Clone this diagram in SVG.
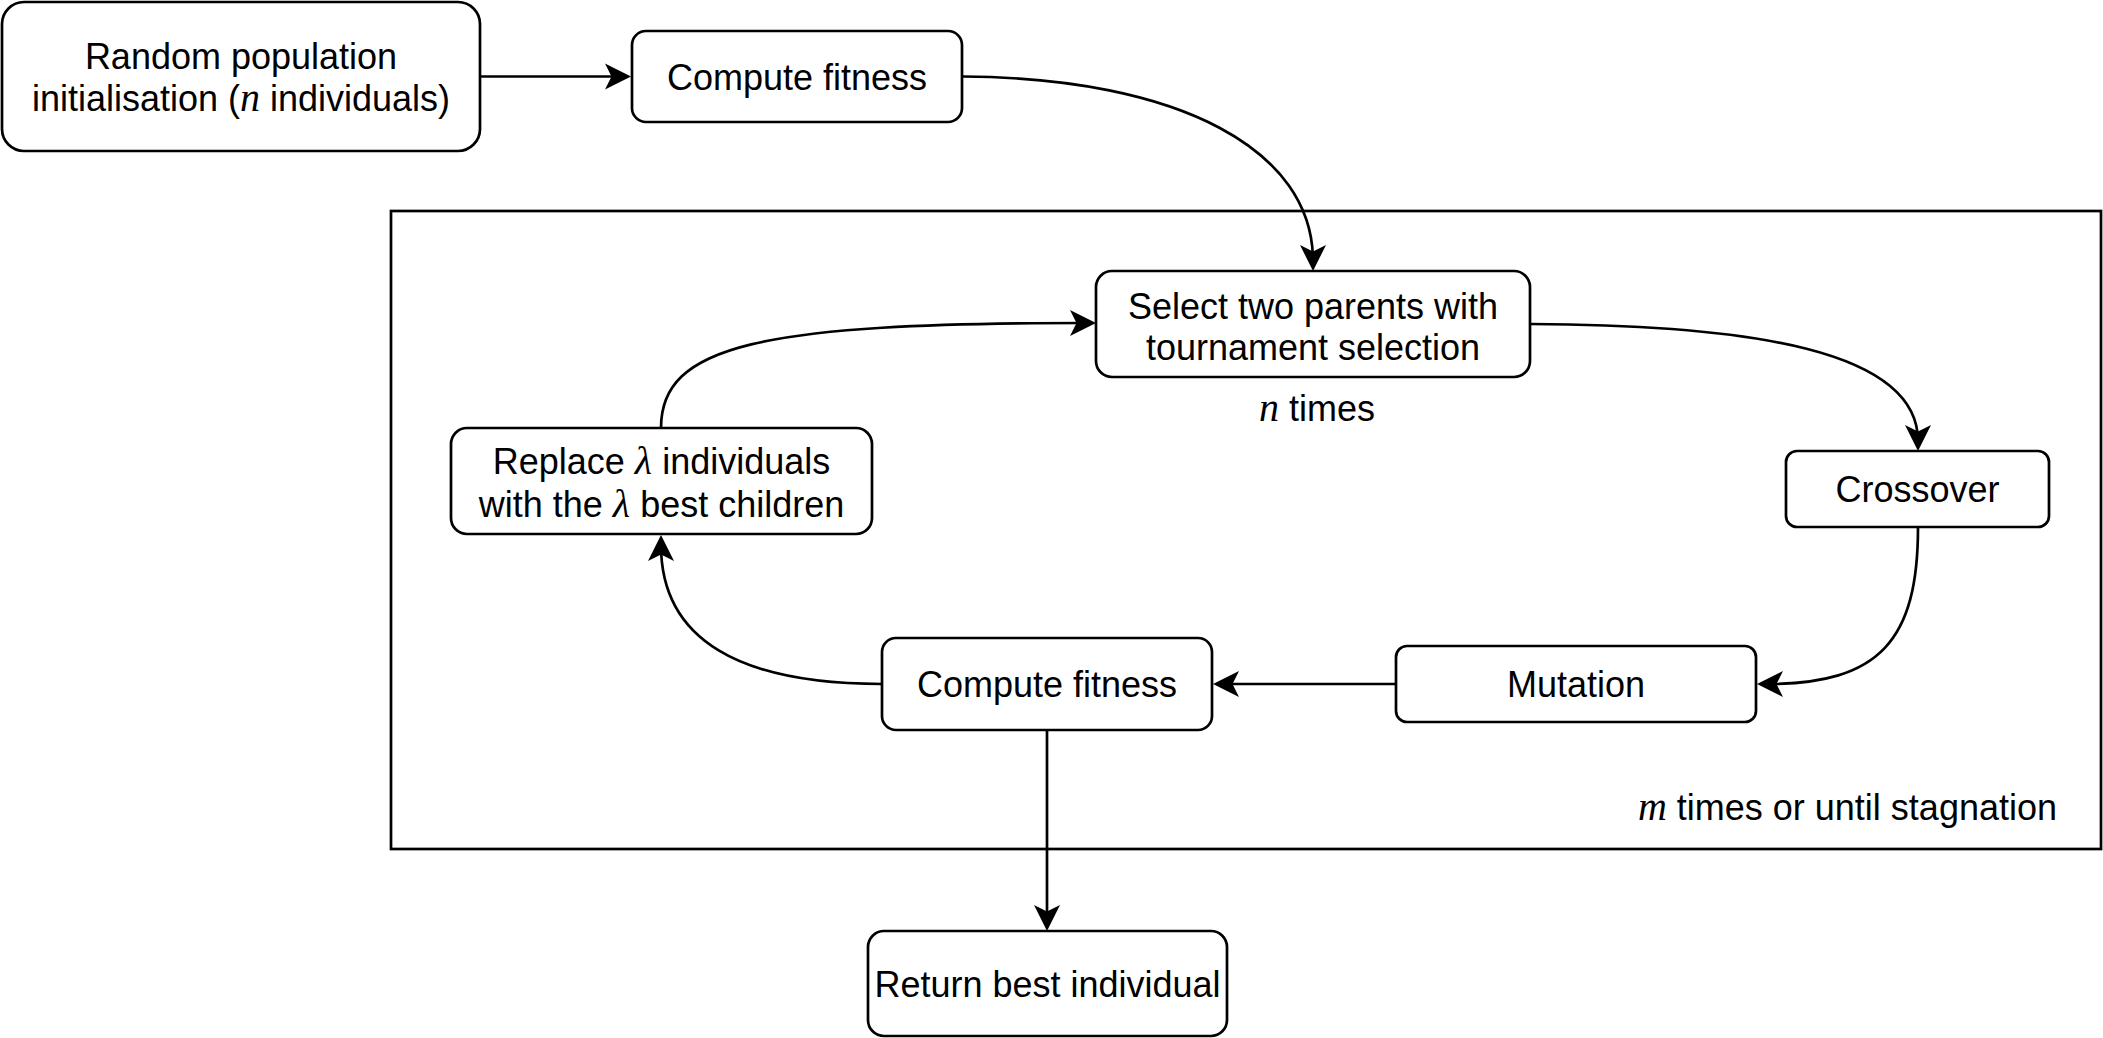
<svg xmlns="http://www.w3.org/2000/svg" width="2103" height="1038" viewBox="0 0 2103 1038">
<style>
.box{fill:#fff;stroke:#000;stroke-width:2.7}
.frame{fill:none;stroke:#000;stroke-width:2.7}
.edge{fill:none;stroke:#000;stroke-width:2.7}
text{font-family:"Liberation Sans",Arial,Helvetica,sans-serif;font-size:36px;fill:#000}
.c{text-anchor:middle}
.m{font-family:"Liberation Serif","DejaVu Serif",serif;font-style:italic;font-size:40px}
</style>
<defs>
<marker id="arr" markerUnits="userSpaceOnUse" orient="auto" viewBox="-20 -15 32 30" refX="0" refY="0" markerWidth="32" markerHeight="30" overflow="visible">
<path d="M10,0 L-16,-13 L-9.5,0 L-16,13 Z" fill="#000"/>
</marker>
</defs>
<rect id="loop-frame" class="frame" x="391" y="211" width="1710" height="638"/>
<g id="connectors">
<path class="edge" d="M481,76.5 L621,76.5" marker-end="url(#arr)"/>
<path class="edge" d="M963,76.5 C1180,78 1313,150 1313,261" marker-end="url(#arr)"/>
<path class="edge" d="M1530,324 C1750,325 1918,350 1918,441" marker-end="url(#arr)"/>
<path class="edge" d="M1918,527 C1918,640 1880,684 1767,684" marker-end="url(#arr)"/>
<path class="edge" d="M1396,684 L1223,684" marker-end="url(#arr)"/>
<path class="edge" d="M882,684 C740,684 661,640 661,545" marker-end="url(#arr)"/>
<path class="edge" d="M661,428 C661,345 760,323 1086,323" marker-end="url(#arr)"/>
<path class="edge" d="M1047,730 L1047,921" marker-end="url(#arr)"/>
</g>
<g id="random-init">
<rect class="box" x="2" y="2" width="478" height="149" rx="22"/>
<text class="c" x="241" y="69">Random population</text>
<text class="c" x="241" y="111">initialisation (<tspan class="m">n</tspan> individuals)</text>
</g>
<g id="compute-fitness-1">
<rect class="box" x="632" y="31" width="330" height="91" rx="14"/>
<text class="c" x="797" y="89.5">Compute fitness</text>
</g>
<g id="select-parents">
<rect class="box" x="1096" y="271" width="434" height="106" rx="16"/>
<text class="c" x="1313" y="319">Select two parents with</text>
<text class="c" x="1313" y="360">tournament selection</text>
</g>
<g id="n-times-label">
<text class="c" x="1317" y="421"><tspan class="m">n</tspan> times</text>
</g>
<g id="crossover">
<rect class="box" x="1786" y="451" width="263" height="76" rx="11"/>
<text class="c" x="1917.5" y="502">Crossover</text>
</g>
<g id="mutation">
<rect class="box" x="1396" y="646" width="360" height="76" rx="11"/>
<text class="c" x="1576" y="697">Mutation</text>
</g>
<g id="compute-fitness-2">
<rect class="box" x="882" y="638" width="330" height="92" rx="14"/>
<text class="c" x="1047" y="697">Compute fitness</text>
</g>
<g id="replace">
<rect class="box" x="451" y="428" width="421" height="106" rx="16"/>
<text class="c" x="661.5" y="474">Replace <tspan class="m">λ</tspan> individuals</text>
<text class="c" x="661.5" y="517">with the <tspan class="m">λ</tspan> best children</text>
</g>
<g id="m-times-label">
<text x="2057" y="820" text-anchor="end"><tspan class="m">m</tspan> times or until stagnation</text>
</g>
<g id="return-best">
<rect class="box" x="868" y="931" width="359" height="105" rx="16"/>
<text class="c" x="1047.5" y="997">Return best individual</text>
</g>
</svg>
